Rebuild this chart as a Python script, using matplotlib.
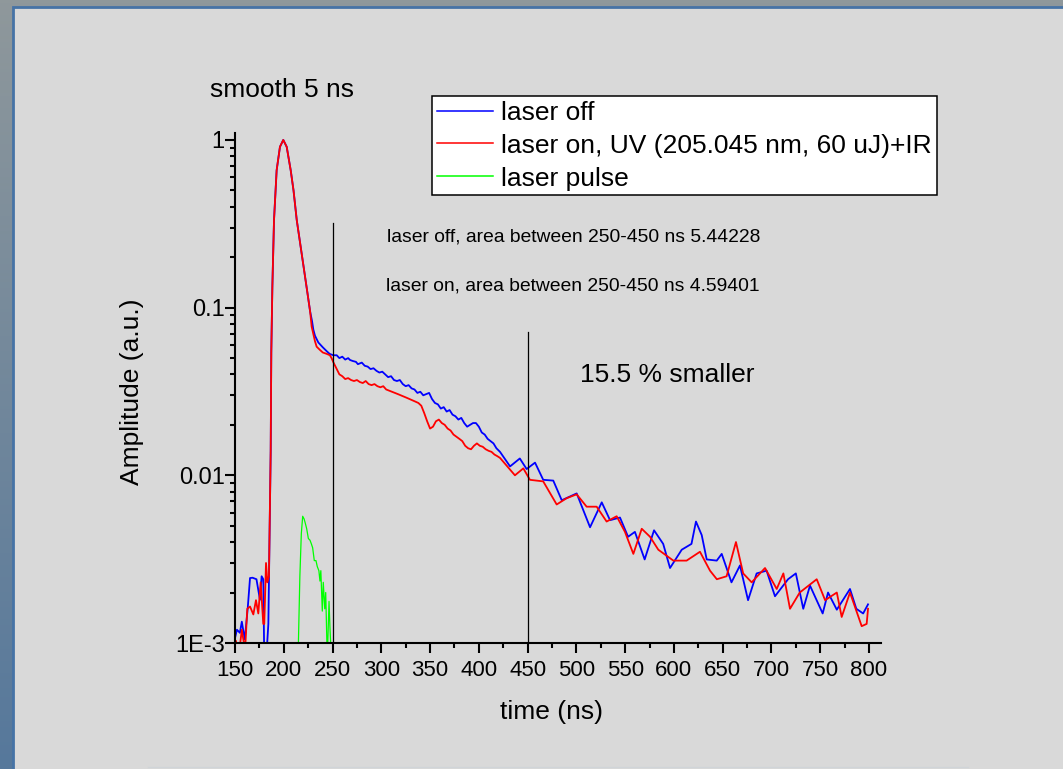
import numpy as np
import matplotlib.pyplot as plt
from matplotlib.patches import Rectangle
from matplotlib.lines import Line2D
from matplotlib.ticker import FixedLocator, FixedFormatter, MultipleLocator, LogLocator, NullFormatter

plt.rcParams['font.family'] = ['Liberation Sans', 'DejaVu Sans']

#-----------------DATA----------------------------------------------#
# laser off (blue)
t_off = [150, 152, 155, 157, 160, 163, 165.4, 168, 172, 175.6, 177.3, 179, 180, 182, 184.2,
         185.5, 186.6, 187.2, 188.3, 190, 192.7, 196.1, 199.5, 203, 207.1, 210, 213.3, 218.4,
         221.5, 224.3, 227, 229, 230.3, 232, 235.4, 240, 244, 247, 250.8, 254.3,
         257, 260, 263, 266, 268, 271, 274, 276, 278, 280, 283, 286, 289, 292, 295, 298, 301,
         304, 307, 310, 313, 316, 319, 322, 325, 328, 331, 334, 337, 340, 343, 346, 349, 352,
         355, 358, 361, 364, 367, 370, 373, 376, 379, 382, 385, 388, 391, 394, 397, 400, 403,
         406, 409, 412, 415, 418,
         421.7, 432, 442, 449, 457.6, 466, 476.3, 485, 500.3, 514, 526, 534.5, 544.7, 553, 560,
         570, 579.6, 589, 596, 608, 618, 622.6, 628.5, 633.6, 643.9, 649, 659, 667.7, 676,
         684.8, 695, 703.6, 717, 725, 732.6, 739.5, 752.5, 758, 767, 780.5, 787, 794, 799]
amp_off = [1.07e-3, 1.2e-3, 1.15e-3, 1.34e-3, 1.05e-3, 1.6e-3, 2.44e-3, 2.45e-3, 2.4e-3, 1.81e-3,
           2.5e-3, 2.4e-3, 8e-4, 8e-4, 1.3e-3,
           5e-3, 0.014, 0.054, 0.133, 0.333, 0.66, 0.91, 1.0, 0.91, 0.66, 0.50, 0.333, 0.21,
           0.16, 0.122, 0.095, 0.083, 0.074, 0.068, 0.062, 0.058, 0.055, 0.053, 0.052, 0.052,
           0.050, 0.051, 0.049, 0.050, 0.0487, 0.048, 0.0475, 0.046, 0.0465, 0.047, 0.045, 0.0445,
           0.043, 0.0435, 0.042, 0.041, 0.0415,
           0.040, 0.0385, 0.039, 0.037, 0.0365, 0.037, 0.035, 0.034, 0.0345, 0.033, 0.0325, 0.031,
           0.0315, 0.030, 0.0305, 0.031, 0.0285,
           0.027, 0.0265, 0.025, 0.0255, 0.024, 0.0245, 0.023, 0.0225, 0.0215, 0.022, 0.0205,
           0.0195, 0.020, 0.0205, 0.0205, 0.0195, 0.018,
           0.0175, 0.0165, 0.016, 0.0155, 0.0145,
           0.0138, 0.0113, 0.0126, 0.0109, 0.0119, 0.0094, 0.0093, 0.0071, 0.0078, 0.0049, 0.0069,
           0.0054, 0.0056, 0.0043, 0.0046,
           0.00315, 0.0047, 0.0039, 0.0028, 0.0036, 0.0039, 0.0053, 0.0044, 0.00315, 0.0031, 0.0034,
           0.0023, 0.0029, 0.0018,
           0.0026, 0.0027, 0.0019, 0.0024, 0.0026, 0.0016, 0.0022, 0.0015, 0.0020, 0.00158, 0.0021,
           0.0016, 0.0015, 0.0017]

# laser on (red)
t_on = [150, 151, 153.4, 157, 160.3, 162.6, 165.4, 168.8, 171.5, 173.9, 176.3, 179, 180, 181.8,
        183.2, 184.8, 186.6, 187.2, 188.3, 190, 192.7, 196.1, 199.5, 203, 207.1, 210, 213.3,
        218.4, 221.5, 224.3, 227, 228.6, 232, 233.7, 237, 240, 244, 247.3, 249, 251,
        254.3, 257, 260, 263, 266, 269, 272, 275, 278, 281, 284, 287, 290, 293, 296, 299, 302,
        305, 308, 311, 314, 317, 320, 323, 326, 329, 332, 335, 338, 341, 344, 347, 350, 353,
        356, 359, 362, 365, 368, 371, 374, 377, 380, 383, 386, 389, 392, 395, 398, 401, 404,
        407, 410, 413, 416, 419,
        421.7, 437, 445.6, 452.4, 466, 479.8, 490, 500.3, 510.5, 520.8, 531, 541.3, 549.8,
        558.4, 567, 575.5, 584, 599.4, 613, 626.7, 637, 644, 654, 663.6, 671, 679.7, 693.4,
        705.4, 712.2, 719, 729, 746.4, 755, 767, 772, 780.5, 792.5, 797.6, 799]
amp_on = [1.0e-3, 1.03e-3, 8e-4, 1.2e-3, 9e-4, 1.6e-3, 1.65e-3, 1.48e-3, 1.8e-3, 1.5e-3,
          2.3e-3, 1.3e-3, 1.3e-3, 3.0e-3,
          2.3e-3, 2.5e-3, 0.014, 0.054, 0.133, 0.333, 0.66, 0.91, 1.0, 0.91, 0.66, 0.50, 0.333,
          0.21, 0.16, 0.122, 0.095, 0.077, 0.063, 0.0585, 0.056, 0.054, 0.053, 0.052, 0.050, 0.047,
          0.043, 0.040, 0.039, 0.0375, 0.038, 0.037, 0.0365, 0.037, 0.036, 0.0355, 0.0365, 0.035,
          0.0345, 0.035, 0.034, 0.0335, 0.034,
          0.0325, 0.032, 0.0315, 0.031, 0.0305, 0.030, 0.0295, 0.029, 0.0285, 0.028, 0.0275, 0.027,
          0.026, 0.0235, 0.021, 0.019, 0.0195,
          0.021, 0.0215, 0.0205, 0.020, 0.019, 0.0185, 0.0175, 0.017, 0.0165, 0.016, 0.015,
          0.0145, 0.0143, 0.015, 0.0155, 0.015, 0.0148,
          0.0143, 0.014, 0.0138, 0.0133, 0.013,
          0.0127, 0.0100, 0.011, 0.0094, 0.0092, 0.0067, 0.0073, 0.0077, 0.0065, 0.0065,
          0.0053, 0.0057, 0.0046,
          0.0034, 0.0048, 0.0043, 0.0036, 0.0031, 0.0031, 0.0035, 0.0027, 0.0024, 0.0025, 0.0040,
          0.0026, 0.0023, 0.0028,
          0.0021, 0.0026, 0.0016, 0.0020, 0.0024, 0.0018, 0.0020, 0.00143, 0.0020, 0.00126,
          0.0013, 0.0016]

# laser pulse (green)
t_pulse = [214, 215, 216.5, 218, 219.4, 220.8, 222, 223.5, 225.2, 226.9, 228.3, 229.6, 231.3,
           233, 234.4, 236, 237.1, 238, 239.5, 240.5, 242, 243, 244.6, 246.4, 247.3, 248.8]
amp_pulse = [8e-4, 1e-3, 0.0025, 0.0045, 0.0057, 0.0055, 0.0052, 0.0048, 0.0042, 0.0041, 0.0039,
             0.0037, 0.0031, 0.0031, 0.00285, 0.0027, 0.00234, 0.0027, 0.00155, 0.0023, 0.0016,
             0.0020, 8e-4, 0.00177, 0.00126, 8e-4]

# integration window marks and their heights
mark_t = [250, 450]
mark_top = [0.32, 0.0716]

x_ticks = list(range(150, 801, 50))
y_ticks = [1e-3, 0.01, 0.1, 1]
y_tick_labels = ['1E-3', '0.01', '0.1', '1']

#-----------------FIGURE--------------------------------------------#
W, H = 1063, 769
fig = plt.figure(figsize=(W / 100, H / 100), dpi=100)

# slide background with the grey graph page on top
bg = fig.add_axes([0, 0, 1, 1])
grad = np.linspace(0, 1, 256)[:, None]
top_c = np.array([143, 152, 155]) / 255
bot_c = np.array([86, 120, 155]) / 255
img = top_c[None, None, :] * (1 - grad[:, :, None]) + bot_c[None, None, :] * grad[:, :, None]
bg.imshow(img, aspect='auto', extent=[0, 1, 0, 1], origin='upper')
bg.add_patch(Rectangle((13 / W, -0.01), 1.0, 1 - 7 / H + 0.01, facecolor='#d9d9d9',
                       edgecolor='#4673a6', lw=2))
bg.plot([148 / W, 968 / W], [2 / H, 2 / H], color='#d0d4d8', lw=1.0)
bg.set_xlim(0, 1)
bg.set_ylim(0, 1)
bg.axis('off')

# plot area
x_min, x_max = 150, 812
px_per_ns = (869 - 235) / 650
ax = fig.add_axes([235 / W, 126 / H, (x_max - x_min) * px_per_ns / W, 510 / H])
ax.set_facecolor('none')

ax.plot(t_off, amp_off, color='#0000ff', lw=1.3)
ax.plot(t_on, amp_on, color='#ff0000', lw=1.3)
ax.plot(t_pulse, amp_pulse, color='#00ff00', lw=0.9)
for t, top in zip(mark_t, mark_top):
    ax.plot([t, t], [1e-3, top], color='black', lw=0.9)

ax.set_yscale('log')
ax.set_xlim(x_min, x_max)
ax.set_ylim(1e-3, 1.1)

ax.spines['top'].set_visible(False)
ax.spines['right'].set_visible(False)
ax.spines['left'].set_linewidth(1.5)
ax.spines['bottom'].set_linewidth(1.5)

ax.xaxis.set_major_locator(FixedLocator(x_ticks))
ax.xaxis.set_minor_locator(MultipleLocator(25))
ax.yaxis.set_major_locator(FixedLocator(y_ticks))
ax.yaxis.set_major_formatter(FixedFormatter(y_tick_labels))
ax.yaxis.set_minor_locator(LogLocator(base=10, subs=np.arange(2, 10)))
ax.yaxis.set_minor_formatter(NullFormatter())
ax.tick_params(which='major', direction='out', length=7, width=1.5)
ax.tick_params(which='minor', direction='out', length=3.5, width=1.5)
ax.tick_params(axis='x', which='major', labelsize=16, pad=5.5)
ax.tick_params(axis='y', which='major', labelsize=17, pad=0.5)

ax.set_xlabel('time (ns)', fontsize=19, va='center')
ax.xaxis.set_label_coords(552 / W, 1 - 712 / H, transform=fig.transFigure)
ax.set_ylabel('Amplitude (a.u.)', fontsize=19, va='center')
ax.yaxis.set_label_coords(132 / W, 1 - 392 / H, transform=fig.transFigure)

# notes
fig.text(210 / W, 1 - 90 / H, 'smooth 5 ns', fontsize=19, ha='left', va='center')
fig.text(387 / W, 1 - 237 / H, 'laser off, area between 250-450 ns 5.44228', fontsize=13.9,
         ha='left', va='center')
fig.text(386 / W, 1 - 286 / H, 'laser on, area between 250-450 ns 4.59401', fontsize=13.9,
         ha='left', va='center')
fig.text(580 / W, 1 - 375 / H, '15.5 % smaller', fontsize=19, ha='left', va='center')

# legend
handles = [Line2D([], [], color='#0000ff', lw=1.1),
           Line2D([], [], color='#ff0000', lw=1.1),
           Line2D([], [], color='#00ff00', lw=1.1)]
labels = ['laser off', 'laser on, UV (205.045 nm, 60 uJ)+IR', 'laser pulse']
leg = ax.legend(handles, labels, loc='upper left', bbox_to_anchor=(432 / W, 1 - 96 / H),
                bbox_transform=fig.transFigure, borderaxespad=0, fontsize=19, fancybox=False,
                framealpha=1, edgecolor='black', handlelength=2.15, handletextpad=0.3,
                labelspacing=0.34, borderpad=0.18)
leg.get_frame().set_linewidth(1.1)

fig.savefig('out.png', dpi=100)
